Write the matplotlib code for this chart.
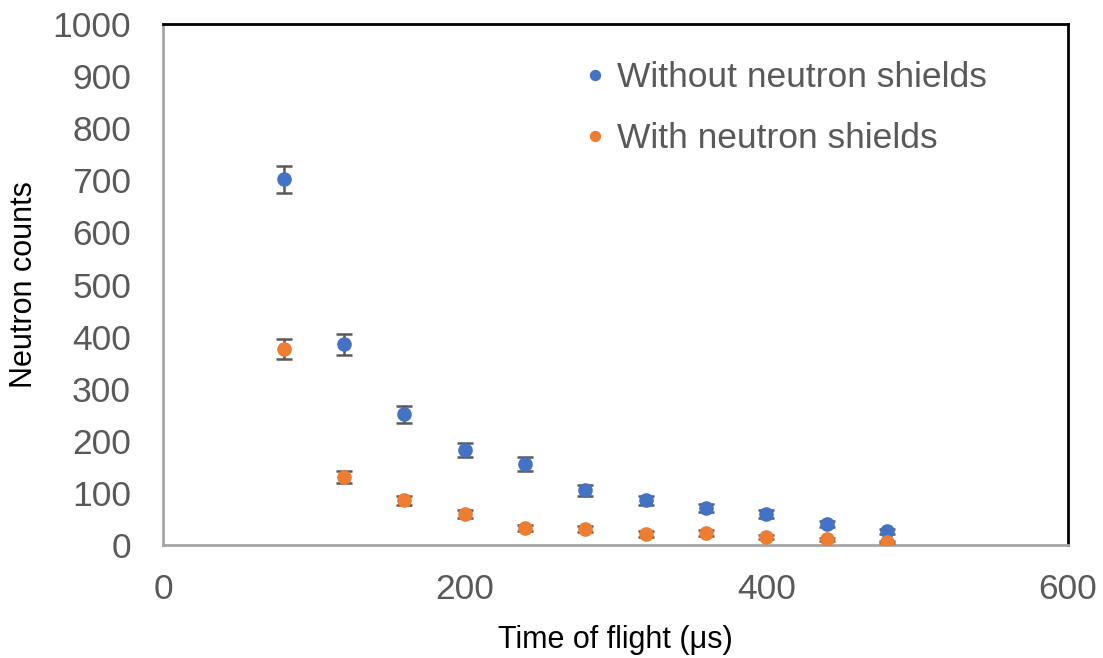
import matplotlib
matplotlib.use("Agg")
import matplotlib.pyplot as plt

# === Données ===
tof = [80, 120, 160, 200, 240, 280, 320, 360, 400, 440, 480]

counts_without = [702, 385, 251, 182, 155, 105, 86, 71, 59, 40, 26]
err_without = [26, 20, 16, 14, 13, 10, 9, 8, 8, 6, 5]

counts_with = [377, 131, 86, 59, 33, 31, 21, 23, 15, 11, 5]
err_with = [19, 11, 9, 8, 6, 6, 5, 5, 4, 3, 2]

xticks = [0, 200, 400, 600]
yticks = list(range(0, 1001, 100))

blue = "#4472C4"
orange = "#ED7D31"
grey = "#595959"

plt.rcParams['font.family'] = ['Liberation Sans', 'DejaVu Sans']

fig = plt.figure(figsize=(11.03, 6.58), dpi=100)
ax = fig.add_axes([0.1478, 0.1717, 0.8205, 0.7918])

ax.errorbar(tof, counts_without, yerr=err_without, fmt='o', color=blue,
            markersize=9.5, ecolor=grey, elinewidth=1.8, capsize=5.5, capthick=1.8,
            label="Without neutron shields", zorder=3)
ax.errorbar(tof, counts_with, yerr=err_with, fmt='o', color=orange,
            markersize=9.5, ecolor=grey, elinewidth=1.8, capsize=5.5, capthick=1.8,
            label="With neutron shields", zorder=3)

ax.set_xlim(0, 600)
ax.set_ylim(0, 1000)
ax.set_xticks(xticks)
ax.set_yticks(yticks)
ax.tick_params(axis='both', length=0, labelsize=25.5, labelcolor=grey)
ax.tick_params(axis='y', pad=23)
ax.tick_params(axis='x', pad=20)

ax.set_xlabel("Time of flight (μs)", fontsize=22, labelpad=14)
ax.set_ylabel("Neutron counts", fontsize=22, labelpad=10)

for side in ['top', 'right']:
    ax.spines[side].set_color('black')
    ax.spines[side].set_linewidth(2)
for side in ['left', 'bottom']:
    ax.spines[side].set_color('#A6A6A6')
    ax.spines[side].set_linewidth(2)

handles, labels = ax.get_legend_handles_labels()
handles = [h[0] for h in handles]
leg = ax.legend(handles, labels, loc='upper right', bbox_to_anchor=(0.945, 0.99),
                frameon=False, fontsize=25.5, handlelength=0.4, handletextpad=0.4,
                labelspacing=0.8, markerscale=0.75)
for t in leg.get_texts():
    t.set_color(grey)

fig.savefig("out.png", dpi=100)
plt.close(fig)
